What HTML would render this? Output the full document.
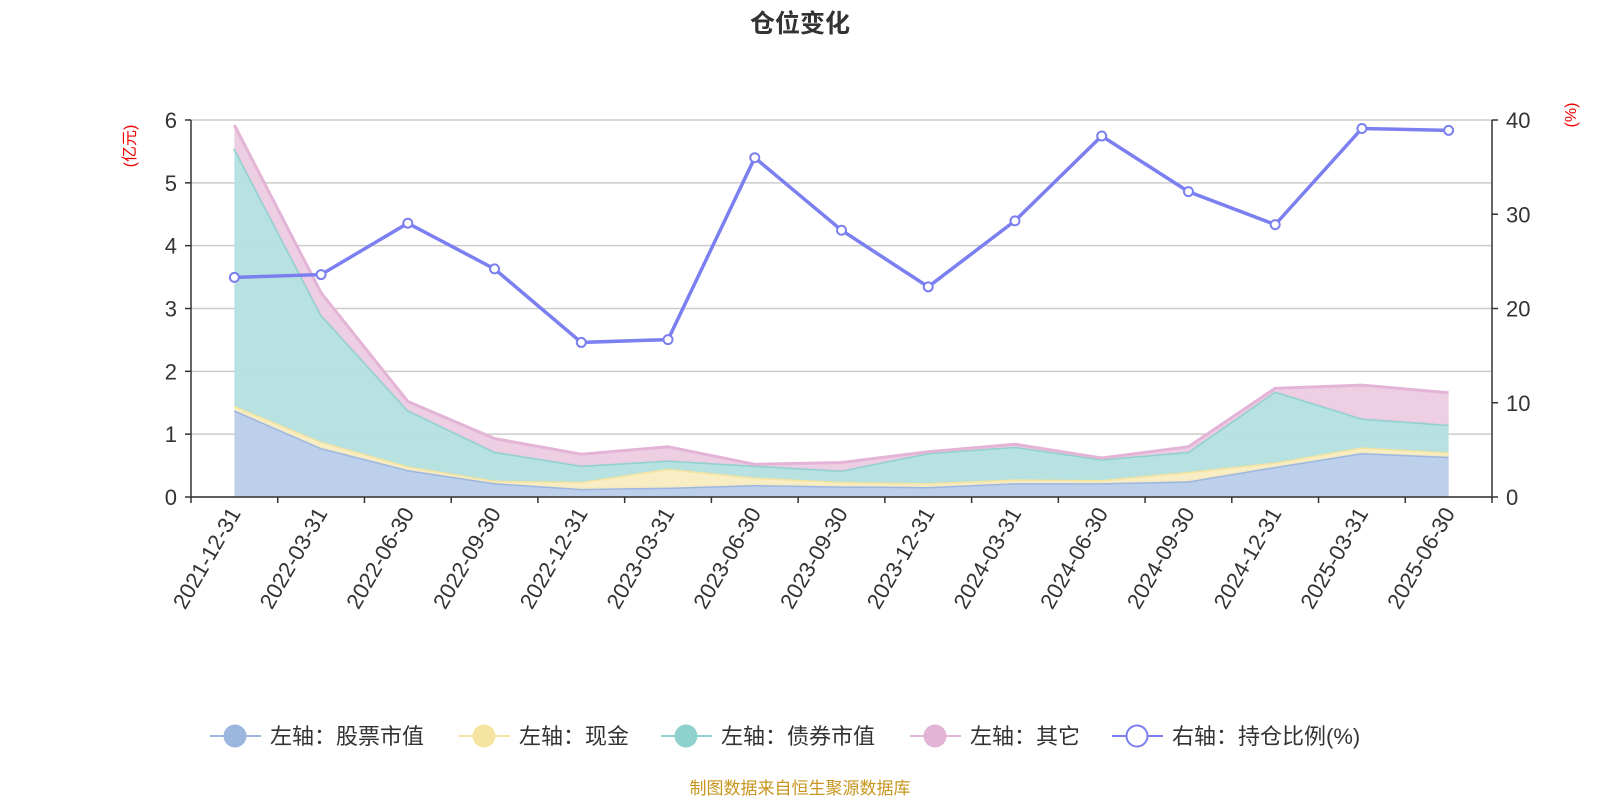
<!DOCTYPE html>
<html><head><meta charset="utf-8"><style>
body{margin:0;background:#fff;width:1600px;height:800px;overflow:hidden;font-family:"Liberation Sans","Noto Sans CJK SC",sans-serif}
</style></head><body>
<svg id="c" width="1600" height="800" xmlns="http://www.w3.org/2000/svg">
<text x="800" y="32" text-anchor="middle" font-size="25" font-weight="bold" fill="#333" font-family="Liberation Sans,Noto Sans CJK SC,sans-serif">仓位变化</text>
<text transform="translate(135,146) rotate(-90)" text-anchor="middle" font-size="16" fill="#e00" font-family="Liberation Sans,Noto Sans CJK SC,sans-serif">(亿元)</text>
<text transform="translate(1576,115) rotate(-90)" text-anchor="middle" font-size="16" fill="#e00" font-family="Liberation Sans,sans-serif">(%)</text>
<g id="grid"></g><g id="areas"></g><g id="axes"></g><g id="line"></g>
<g id="legend" font-size="22" fill="#333" font-family="Liberation Sans,Noto Sans CJK SC,sans-serif"></g>
<text x="800" y="794" text-anchor="middle" font-size="17" fill="#c8961e" font-family="Liberation Sans,Noto Sans CJK SC,sans-serif">制图数据来自恒生聚源数据库</text>
</svg>
<script>
const categories=["2021-12-31","2022-03-31","2022-06-30","2022-09-30","2022-12-31","2023-03-31","2023-06-30","2023-09-30","2023-12-31","2024-03-31","2024-06-30","2024-09-30","2024-12-31","2025-03-31","2025-06-30"];
const stock=[1.38,0.78,0.43,0.22,0.13,0.15,0.19,0.17,0.16,0.22,0.22,0.25,0.48,0.70,0.64];
const cash=[0.07,0.10,0.06,0.04,0.11,0.30,0.12,0.07,0.06,0.06,0.05,0.15,0.07,0.09,0.07];
const bond=[4.10,2.02,0.89,0.46,0.26,0.13,0.19,0.18,0.48,0.52,0.33,0.32,1.13,0.46,0.44];
const other=[0.37,0.35,0.14,0.21,0.18,0.22,0.02,0.13,0.02,0.04,0.02,0.08,0.05,0.53,0.51];
const ratio=[23.3,23.6,29.05,24.2,16.4,16.7,36.0,28.3,22.3,29.3,38.3,32.4,28.9,39.1,38.9];
const leftTicks=[0,1,2,3,4,5,6];
const rightTicks=[0,10,20,30,40];
const NS="http://www.w3.org/2000/svg";
const X0=191,X1=1492,Y0=497,Y1=120,band=(X1-X0)/categories.length;
const x=i=>X0+band*(i+0.5);
const yl=v=>Y0-(v/6)*(Y0-Y1);
const yr=v=>Y0-(v/40)*(Y0-Y1);
function mk(p,t,a){const e=document.createElementNS(NS,t);for(const k in a)e.setAttribute(k,a[k]);p.appendChild(e);return e;}
const G=id=>document.getElementById(id);
leftTicks.forEach(v=>{
 const l=mk(G('grid'),'line',{x1:X0,x2:X1,y1:yl(v),y2:yl(v),stroke:'#ccc','stroke-width':1.5});
 
 
 mk(G('axes'),'line',{x1:X0-6,x2:X0,y1:yl(v),y2:yl(v),stroke:'#333','stroke-width':1.5});
 const t=mk(G('axes'),'text',{x:X0-14,y:yl(v)+8,'text-anchor':'end','font-size':22,fill:'#333'});t.textContent=v;
 
 
});
rightTicks.forEach(v=>{
 mk(G('axes'),'line',{x1:X1,x2:X1+6,y1:yr(v),y2:yr(v),stroke:'#333','stroke-width':1.5});
 const t=mk(G('axes'),'text',{x:X1+14,y:yr(v)+8,'font-size':22,fill:'#333'});t.textContent=v;
 
 
});
mk(G('axes'),'line',{x1:X0,x2:X0,y1:Y1,y2:Y0,stroke:'#333','stroke-width':1.5});
mk(G('axes'),'line',{x1:X1,x2:X1,y1:Y1,y2:Y0,stroke:'#333','stroke-width':1.5});
mk(G('axes'),'line',{x1:X0,x2:X1,y1:Y0,y2:Y0,stroke:'#333','stroke-width':1.5});
for(let i=0;i<=categories.length;i++)mk(G('axes'),'line',{x1:X0+band*i,x2:X0+band*i,y1:Y0,y2:Y0+6,stroke:'#333','stroke-width':1.5});
categories.forEach((c,i)=>{
 const t=mk(G('axes'),'text',{transform:`translate(${x(i)+7},${Y0+16}) rotate(-60)`,'text-anchor':'end','font-size':22,fill:'#333'});t.textContent=c;
 
 
});
const series=[[stock,'#9db6e0','#b9cdea','stock-area'],[cash,'#f5e3a0','#f8ecc0','cash-area'],[bond,'#8fd1ce','#b4e0e0','bond-area'],[other,'#e3b4d6','#edcbe2','other-area']];
let base=categories.map(()=>0);
series.forEach(([d,lc,fc,name])=>{
 const top=base.map((b,i)=>b+d[i]);
 let p=top.map((v,i)=>`${i?'L':'M'}${x(i)},${yl(v)}`).join('');
 let back=base.map((v,i)=>[i,v]).reverse().map(([i,v])=>`L${x(i)},${yl(v)}`).join('');
 const a=mk(G('areas'),'path',{d:p+back+'Z',fill:fc,opacity:0.95});
 
 
 mk(G('areas'),'path',{d:p,fill:'none',stroke:lc,'stroke-width':3});
 base=top;
});
const lp=ratio.map((v,i)=>`${i?'L':'M'}${x(i)},${yr(v)}`).join('');
const ln=mk(G('line'),'path',{d:lp,fill:'none',stroke:'#7b7ff0','stroke-width':3.5});


ratio.forEach((v,i)=>{
 const c=mk(G('line'),'circle',{cx:x(i),cy:yr(v),r:4.5,fill:'#fff',stroke:'#7b7ff0','stroke-width':2});
 
 
});
const leg=[['左轴：股票市值','#9db6e0',210,true],['左轴：现金','#f5e3a0',459,true],['左轴：债券市值','#8fd1ce',661,true],['左轴：其它','#e3b4d6',910,true],['右轴：持仓比例(%)','#7b7ff0',1112,false]];
leg.forEach(([t,c,lx,fill])=>{
 const g=mk(G('legend'),'g',{});
 
 
 mk(g,'line',{x1:lx,x2:lx+51,y1:736,y2:736,stroke:c,'stroke-width':2});
 mk(g,'circle',{cx:lx+25,cy:736,r:fill?11.5:10.5,fill:fill?c:'#fff',stroke:c,'stroke-width':fill?0:2});
 const tx=mk(g,'text',{x:lx+60,y:744});tx.textContent=t;
});
</script>
</body></html>
